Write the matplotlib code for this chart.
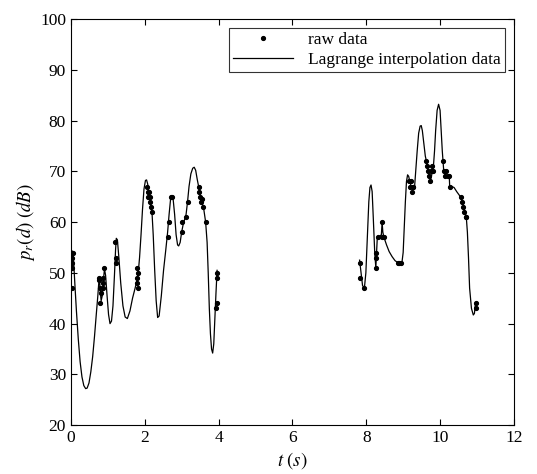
import numpy as np
import matplotlib
matplotlib.use('Agg')
import matplotlib.pyplot as plt

plt.rcParams['font.family'] = ['Liberation Serif', 'DejaVu Serif']
plt.rcParams['mathtext.fontset'] = 'stix'

# raw data points (t in s, p_r(d) in dB)
raw_t = [0.02, 0.03, 0.03, 0.04, 0.05,
         0.76, 0.77, 0.78, 0.80, 0.82, 0.86, 0.87, 0.88, 0.89,
         1.20, 1.21, 1.22,
         1.78, 1.80, 1.80, 1.81, 1.83,
         2.06, 2.08, 2.09, 2.11, 2.13, 2.15, 2.17, 2.19,
         2.64, 2.66, 2.71, 2.74,
         3.00, 3.02, 3.12, 3.16,
         3.46, 3.48, 3.49, 3.53, 3.55, 3.57, 3.65,
         3.93, 3.95, 3.96, 3.96,
         7.82, 7.83, 7.95,
         8.27, 8.27, 8.27, 8.31, 8.43, 8.44, 8.48,
         8.86, 8.90, 8.95,
         9.16, 9.19, 9.21, 9.24, 9.26, 9.28,
         9.63, 9.65, 9.67, 9.70, 9.72, 9.76, 9.78, 9.80,
         10.08, 10.10, 10.12, 10.17, 10.21, 10.24, 10.27,
         10.56, 10.60, 10.63, 10.66, 10.69, 10.71,
         10.97, 10.97]
raw_p = [47, 51, 52, 53, 54,
         49, 48.5, 47, 44, 46, 47, 48, 49, 51,
         56, 53, 52,
         48, 49, 51, 50, 47,
         67, 66, 65, 66, 65, 64, 63, 62,
         57, 60, 65, 65,
         58, 60, 61, 64,
         67, 66, 65, 64, 64.5, 63, 60,
         43, 49, 44, 50,
         52, 49, 47,
         54, 53, 51, 57, 60, 57, 57,
         52, 52, 52,
         68, 67, 68, 66, 67, 67,
         72, 71, 70, 69, 68, 70, 71, 70,
         72, 70, 69, 70, 69, 69, 67,
         65, 64, 63, 62, 61, 61,
         44, 43]

# Lagrange interpolation curve (two segments)
curve1_t = [0.00, 0.015, 0.03, 0.045, 0.06, 0.08, 0.11, 0.15, 0.20, 0.25, 0.30, 0.35,
            0.40, 0.44, 0.49, 0.54, 0.59, 0.64, 0.69, 0.73, 0.76, 0.78, 0.80, 0.82,
            0.85, 0.88, 0.91, 0.94, 0.98, 1.02, 1.06, 1.10, 1.14, 1.18, 1.21, 1.23,
            1.26, 1.30, 1.35, 1.41, 1.47, 1.53, 1.60, 1.67, 1.74, 1.79, 1.83, 1.86,
            1.90, 1.94, 1.98, 2.02, 2.05, 2.08, 2.12, 2.16, 2.20, 2.23, 2.27, 2.31,
            2.35, 2.39, 2.45, 2.51, 2.57, 2.62, 2.66, 2.70, 2.73, 2.77, 2.81, 2.85,
            2.89, 2.92, 2.96, 3.00, 3.04, 3.08, 3.12, 3.16, 3.20, 3.25, 3.30, 3.34,
            3.38, 3.42, 3.46, 3.50, 3.55, 3.60, 3.65, 3.69, 3.72, 3.75, 3.78, 3.81,
            3.84, 3.87, 3.90, 3.93, 3.96]
curve1_p = [47, 50, 53, 54.3, 53.8, 51.5, 47.5, 42.5, 37, 32.5, 29.5, 27.8,
            27.2, 27.3, 28.3, 30.5, 33.5, 37.5, 42, 45.5, 48.5, 48.3, 46, 44.5,
            45.5, 48.5, 50.8, 49.5, 45.5, 41.8, 40, 40.5, 43.5, 49.5, 54.5, 56.8,
            56.5, 53, 48, 43.5, 41.3, 41, 42.5, 45, 47, 48.5, 50.5, 53,
            57.5, 62.5, 66.5, 68.2, 68.3, 67.5, 65.5, 63.5, 61.5, 57.5, 50.5, 44.5,
            41.2, 41.5, 45.5, 50.5, 54.5, 58, 61.5, 64.5, 65.2, 64.5, 61.5, 57.5,
            55.5, 55.3, 56, 58, 59.5, 60.5, 61.5, 64, 67, 69.5, 70.6, 70.8,
            70.2, 68.5, 67, 65.3, 64, 62.5, 60, 56, 50, 43, 38, 35,
            34.2, 36, 41, 46, 50.5]

curve2_t = [7.82, 7.86, 7.90, 7.95, 7.99, 8.03, 8.07, 8.10, 8.13, 8.16, 8.19, 8.23,
            8.26, 8.28, 8.30, 8.36, 8.41, 8.43, 8.45, 8.48, 8.55, 8.62, 8.70, 8.78,
            8.86, 8.93, 8.97, 9.00, 9.03, 9.06, 9.09, 9.12, 9.15, 9.18, 9.22, 9.27,
            9.31, 9.34, 9.38, 9.42, 9.46, 9.49, 9.52, 9.56, 9.60, 9.63, 9.68, 9.72,
            9.75, 9.78, 9.82, 9.85, 9.88, 9.92, 9.96, 10.00, 10.03, 10.06, 10.08, 10.10,
            10.14, 10.20, 10.25, 10.26, 10.32, 10.38, 10.45, 10.52, 10.58, 10.63, 10.68, 10.71,
            10.74, 10.77, 10.80, 10.85, 10.90, 10.93, 10.96]
curve2_p = [52.5, 50, 47.5, 47, 50, 57, 64, 66.8, 67.3, 66, 61, 54,
            51, 54, 57, 57.2, 57.5, 60, 58, 57, 55.5, 54.2, 53.2, 52.4,
            52, 52, 52.2, 54, 59, 64, 68, 69.3, 69, 68, 67, 66.5,
            67, 70, 74, 77.5, 78.9, 79, 78, 75.5, 73, 72, 70, 68.8,
            68.5, 69.5, 71, 74, 78, 82, 83.2, 82, 78, 74, 72, 70,
            69.3, 69, 69, 67, 67, 66.8, 66, 65.3, 64.5, 63.3, 62, 61,
            58, 53, 47, 43, 41.7, 42, 44]

fig, ax = plt.subplots(figsize=(5.37, 4.74), dpi=100)
fig.subplots_adjust(left=0.132, right=0.957, bottom=0.103, top=0.96)

ax.plot(raw_t, raw_p, 'k.', markersize=5.5, label='raw data')
ax.plot(curve1_t, curve1_p, 'k-', linewidth=0.9, label='Lagrange interpolation data')
ax.plot(curve2_t, curve2_p, 'k-', linewidth=0.9)

ax.set_xlim(0, 12)
ax.set_ylim(20, 100)
ax.set_xticks(np.arange(0, 13, 2))
ax.set_yticks(np.arange(20, 101, 10))
ax.tick_params(direction='in', top=True, right=True, labelsize=12.5, length=4)
for s in ax.spines.values():
    s.set_linewidth(0.8)

ax.set_xlabel(r'$t\ (s)$', fontsize=13.5, labelpad=3)
ax.set_ylabel(r'$p_r(d)\ (dB)$', fontsize=13.5, labelpad=2)

leg = ax.legend(loc='upper right', fontsize=12.5, frameon=True, fancybox=False,
                edgecolor='black', borderaxespad=0.5, handlelength=3.4,
                handletextpad=0.9, borderpad=0.25, labelspacing=0.2)
leg.get_frame().set_linewidth(0.8)

fig.savefig('out.png', dpi=100)
